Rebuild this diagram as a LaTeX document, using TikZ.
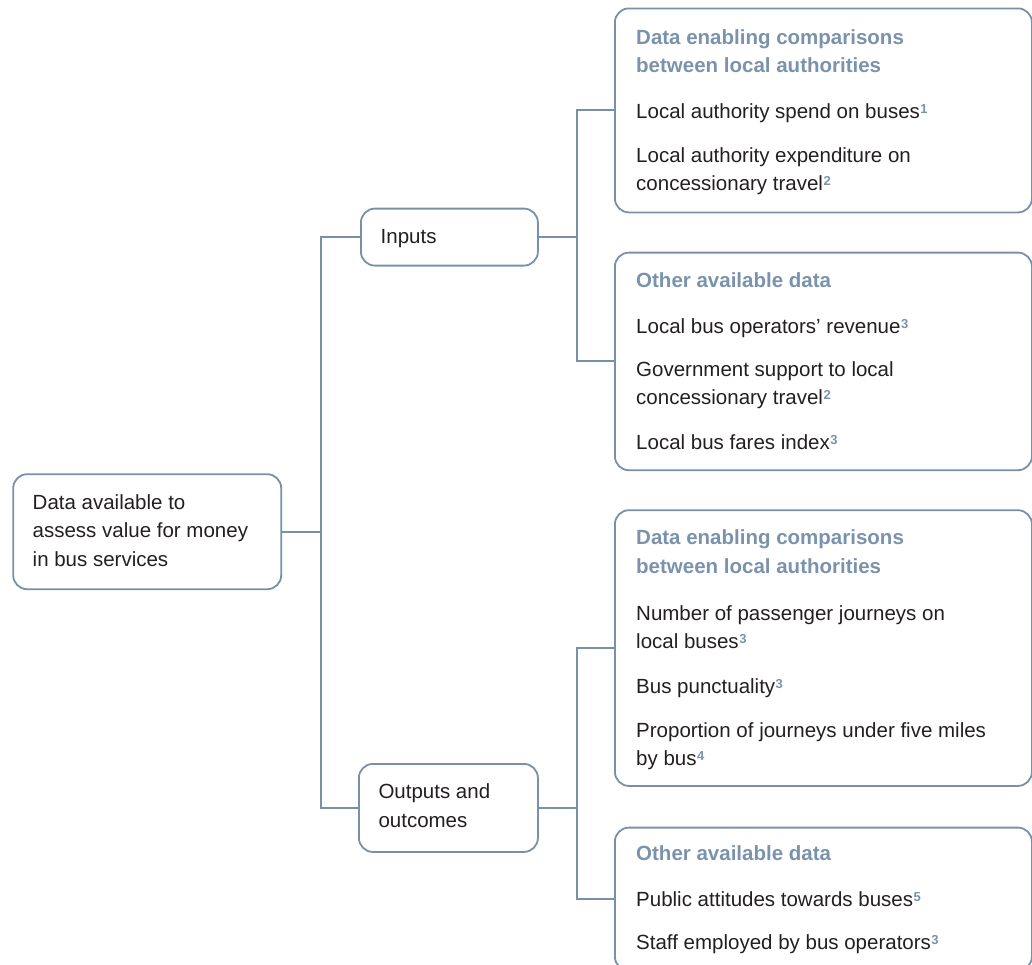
\documentclass[tikz,border=0pt]{standalone}
\usepackage{fontspec}
\setmainfont{Liberation Sans}
\definecolor{ln}{HTML}{7890AA}
\definecolor{hd}{HTML}{7A92AC}
\definecolor{tx}{HTML}{231F20}
\newcommand{\fnote}[1]{\kern0.5pt\raisebox{5pt}{\textcolor{hd}{\fontsize{13}{13}\selectfont\bfseries #1}}}
\begin{document}
\begin{tikzpicture}[x=1pt,y=-1pt,
  box/.style={draw=ln, line width=1.8pt, rounded corners=14pt, anchor=north west, inner sep=0pt},
  txt/.style={anchor=base west, inner sep=0pt, text=tx, font=\fontsize{20.5}{24}\selectfont},
  hdg/.style={anchor=base west, inner sep=0pt, text=hd, font=\fontsize{20.5}{24}\selectfont\bfseries},
  conn/.style={draw=ln, line width=2pt}]
\useasboundingbox (0,0) rectangle (1032,964);
% boxes
\node[box, minimum width=268pt, minimum height=115pt] (root) at (12.3,473.3) {};
\node[box, minimum width=177pt, minimum height=57pt] (inputs) at (360,207.7) {};
\node[box, minimum width=179pt, minimum height=88pt] (outputs) at (358,763) {};
\node[box, minimum width=417pt, minimum height=204pt] (b1) at (614,7.5) {};
\node[box, minimum width=417pt, minimum height=217.6pt] (b2) at (614,251.7) {};
\node[box, minimum width=417pt, minimum height=275.7pt] (b3) at (614,509.3) {};
\node[box, minimum width=417pt, minimum height=143pt] (b4) at (614,826.7) {};
% spines
\coordinate (sA) at (321,0);
\coordinate (sB) at (577,0);
% connectors
\draw[conn] (root.east) -- (root.east -| sA);
\draw[conn] (inputs.west) -- (inputs.west -| sA) -- (outputs.west -| sA) -- (outputs.west);
\draw[conn] (inputs.east) -- (inputs.east -| sB);
\draw[conn] (b1.west) -- (b1.west -| sB) -- (b2.west -| sB) -- (b2.west);
\draw[conn] (outputs.east) -- (outputs.east -| sB);
\draw[conn] (b3.west) -- (b3.west -| sB) -- (b4.west -| sB) -- (b4.west);
% root text
\node[txt] (r1) at (32.5,509.3) {Data available to};
\node[txt] (r2) at (32.5,537.7) {assess value for money};
\node[txt] (r3) at (32.5,566) {in bus services};
% inputs / outputs
\node[txt] (i1) at (380.5,243.3) {Inputs};
\node[txt] (o1) at (378.3,798.3) {Outputs and};
\node[txt] (o2) at (378.3,827) {outcomes};
% box 1
\node[hdg] (a1) at (636,44) {Data enabling comparisons};
\node[hdg] (a2) at (636,72.5) {between local authorities};
\node[txt] (a3) at (636,118.3) {Local authority spend on buses\fnote{1}};
\node[txt] (a4) at (636,162.3) {Local authority expenditure on};
\node[txt] (a5) at (636,190.7) {concessionary travel\fnote{2}};
% box 2
\node[hdg] (c1) at (636,287) {Other available data};
\node[txt] (c2) at (636,333) {Local bus operators’ revenue\fnote{3}};
\node[txt] (c3) at (636,376.5) {Government support to local};
\node[txt] (c4) at (636,404.5) {concessionary travel\fnote{2}};
\node[txt] (c5) at (636,449) {Local bus fares index\fnote{3}};
% box 3
\node[hdg] (d1) at (636,544.5) {Data enabling comparisons};
\node[hdg] (d2) at (636,573) {between local authorities};
\node[txt] (d3) at (636,620) {Number of passenger journeys on};
\node[txt] (d4) at (636,648.3) {local buses\fnote{3}};
\node[txt] (d5) at (636,693) {Bus punctuality\fnote{3}};
\node[txt] (d6) at (636,737) {Proportion of journeys under five miles};
\node[txt] (d7) at (636,765.3) {by bus\fnote{4}};
% box 4
\node[hdg] (e1) at (636,860.7) {Other available data};
\node[txt] (e2) at (636,906.5) {Public attitudes towards buses\fnote{5}};
\node[txt] (e3) at (636,949) {Staff employed by bus operators\fnote{3}};
\end{tikzpicture}
\end{document}
